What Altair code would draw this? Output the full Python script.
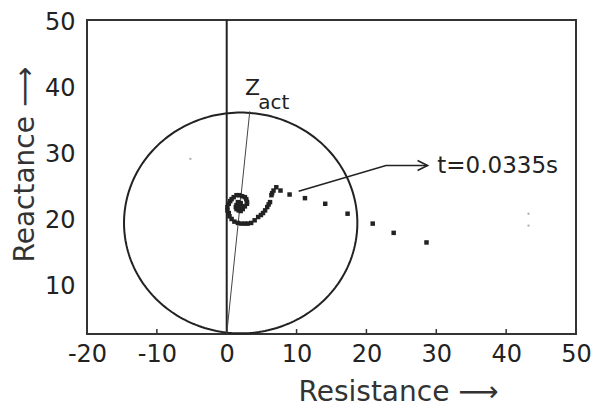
import altair as alt
import pandas as pd
import numpy as np

# Impedance trajectory (Resistance, Reactance)
traj_r = [28.6, 23.9, 20.9, 17.3, 14.1, 11.2, 9.0, 7.7, 7.1, 6.7, 6.5, 6.4, 6.2,
          6.0, 5.8, 5.5, 5.2, 4.9, 4.5, 4.0, 3.5, 3.0, 2.6, 2.1, 1.6, 1.1, 0.7,
          0.4, 0.3, 0.1, 0.1, 0.3, 0.5, 0.7, 1.0, 1.4, 1.8, 2.2, 2.6, 2.8, 2.9,
          2.9, 2.6, 2.3, 2.0, 1.7, 1.4, 1.3, 1.4, 1.6, 2.0, 2.2, 2.1, 1.9]
traj_x = [16.35, 17.8, 19.2, 20.7, 22.2, 23.05, 23.6, 24.2, 24.7, 24.2, 23.8, 23.5, 22.45,
          22.1, 21.7, 21.2, 20.8, 20.5, 20.2, 19.7, 19.3, 19.2, 19.2, 19.2, 19.3, 19.5, 19.9,
          20.3, 20.8, 21.2, 21.7, 22.2, 22.6, 22.9, 23.2, 23.5, 23.5, 23.35, 23.2, 22.9, 22.5,
          22.2, 21.8, 21.4, 21.1, 21.2, 21.4, 21.7, 22.0, 22.45, 22.3, 21.85, 21.7, 21.9]

# faint stray points
stray_r = [43.2, 43.2, -5.2]
stray_x = [20.7, 18.9, 29.0]

# Mho circle characteristic
circle_center_r = 2.0
circle_center_x = 19.3
circle_radius = 16.7

# Z_act line
zact_r = [0.0, 3.3]
zact_x = [2.5, 36.2]

# annotation arrow
arrow_r = [10.3, 22.8, 28.75]
arrow_x = [24.1, 28.0, 28.0]
t_label = "t=0.0335s"
t_label_r = 30.15
t_label_x = 27.9

x_ticks = [-20, -10, 0, 10, 20, 30, 40, 50]
y_ticks = [10, 20, 30, 40, 50]
inner_ticks = [-10, 10, 20, 30, 40]

XDOM = [-20, 50]
YDOM = [2.5, 50]
FONT = "DejaVu Sans"
INK = "#222222"

xs = alt.Scale(domain=XDOM, nice=False, zero=False)
ys = alt.Scale(domain=YDOM, nice=False, zero=False)

x_axis = alt.Axis(values=x_ticks, title="Resistance \u27f6", grid=False, ticks=False, domain=False,
                  labelExpr="replace(datum.label, '\u2212', '-')",
                  labelFont=FONT, labelFontSize=24, labelColor=INK, labelPadding=8,
                  labelFlush=False, labelOverlap=False,
                  titleFont=FONT, titleFontSize=28, titleFontWeight="normal", titleColor="#333333",
                  titleX=211, titleY=66, titleAlign="left", titleBaseline="alphabetic")
y_axis = alt.Axis(values=y_ticks, title="Reactance \u27f6", grid=False, ticks=False, domain=False,
                  labelFont=FONT, labelFontSize=24, labelColor=INK, labelPadding=12,
                  labelOffset=2, labelFlush=False, labelOverlap=False,
                  titleFont=FONT, titleFontSize=28, titleFontWeight="normal", titleColor="#333333",
                  titleX=-54, titleY=242, titleAlign="left", titleBaseline="alphabetic")

theta = np.linspace(0, 2 * np.pi, 241)
circ = pd.DataFrame({
    "r": circle_center_r + circle_radius * np.cos(theta),
    "x": circle_center_x + circle_radius * np.sin(theta),
    "i": np.arange(len(theta)),
})

traj = pd.DataFrame({"r": traj_r, "x": traj_x})
stray = pd.DataFrame({"r": stray_r, "x": stray_x})
zact = pd.DataFrame({"r": zact_r, "x": zact_x, "i": [0, 1]})
arrow = pd.DataFrame({"r": arrow_r, "x": arrow_x, "i": [0, 1, 2]})
ticks_df = pd.DataFrame({"r": inner_ticks, "y1": [YDOM[0]] * len(inner_ticks),
                         "y2": [YDOM[0] + 0.75] * len(inner_ticks)})

base_x = alt.X("r:Q", scale=xs, axis=x_axis)
base_y = alt.Y("x:Q", scale=ys, axis=y_axis)

circle_layer = alt.Chart(circ).mark_line(color=INK, strokeWidth=2).encode(
    x=base_x, y=base_y, order="i:Q")

vline = alt.Chart(pd.DataFrame({"r": [0]})).mark_rule(color=INK, strokeWidth=2).encode(
    x=alt.X("r:Q", scale=xs))

zact_layer = alt.Chart(zact).mark_line(color="#444444", strokeWidth=1).encode(
    x=alt.X("r:Q", scale=xs), y=alt.Y("x:Q", scale=ys), order="i:Q")

traj_layer = alt.Chart(traj).mark_square(color=INK, size=20, opacity=1).encode(
    x=alt.X("r:Q", scale=xs), y=alt.Y("x:Q", scale=ys))

stray_layer = alt.Chart(stray).mark_square(color="#aaaaaa", size=4, opacity=1).encode(
    x=alt.X("r:Q", scale=xs), y=alt.Y("x:Q", scale=ys))

arrow_layer = alt.Chart(arrow).mark_line(color=INK, strokeWidth=1.6).encode(
    x=alt.X("r:Q", scale=xs), y=alt.Y("x:Q", scale=ys), order="i:Q")

head = alt.Chart(arrow.tail(1)).mark_point(
    shape="M-1,-0.5L0,0L-1,0.5", filled=False, size=400, color=INK, strokeWidth=1.6, opacity=1
).encode(x=alt.X("r:Q", scale=xs), y=alt.Y("x:Q", scale=ys))

t_text = alt.Chart(pd.DataFrame({"r": [t_label_r], "x": [t_label_x], "t": [t_label]})).mark_text(
    font=FONT, fontSize=23, color=INK, align="left", baseline="middle"
).encode(x=alt.X("r:Q", scale=xs), y=alt.Y("x:Q", scale=ys), text="t:N")

z_text = alt.Chart(pd.DataFrame({"r": [2.6], "x": [38.7], "t": ["Z"]})).mark_text(
    font=FONT, fontSize=22, color=INK, align="left", baseline="alphabetic"
).encode(x=alt.X("r:Q", scale=xs), y=alt.Y("x:Q", scale=ys), text="t:N")

act_text = alt.Chart(pd.DataFrame({"r": [4.5], "x": [36.6], "t": ["act"]})).mark_text(
    font=FONT, fontSize=20, color=INK, align="left", baseline="alphabetic"
).encode(x=alt.X("r:Q", scale=xs), y=alt.Y("x:Q", scale=ys), text="t:N")

tick_layer = alt.Chart(ticks_df).mark_rule(color="#333333", strokeWidth=1.5).encode(
    x=alt.X("r:Q", scale=xs), y=alt.Y("y1:Q", scale=ys), y2="y2:Q")

chart = alt.layer(
    circle_layer, vline, zact_layer, tick_layer, traj_layer, stray_layer,
    arrow_layer, head, t_text, z_text, act_text
).properties(
    width=489, height=314,
    padding={"left": 79, "top": 12, "right": 15, "bottom": 72},
    autosize=alt.AutoSizeParams(type="none"),
    background="white",
).configure_view(stroke="#333333", strokeWidth=2)

chart.save("out.html", embed_options={"renderer": "svg", "actions": False})
